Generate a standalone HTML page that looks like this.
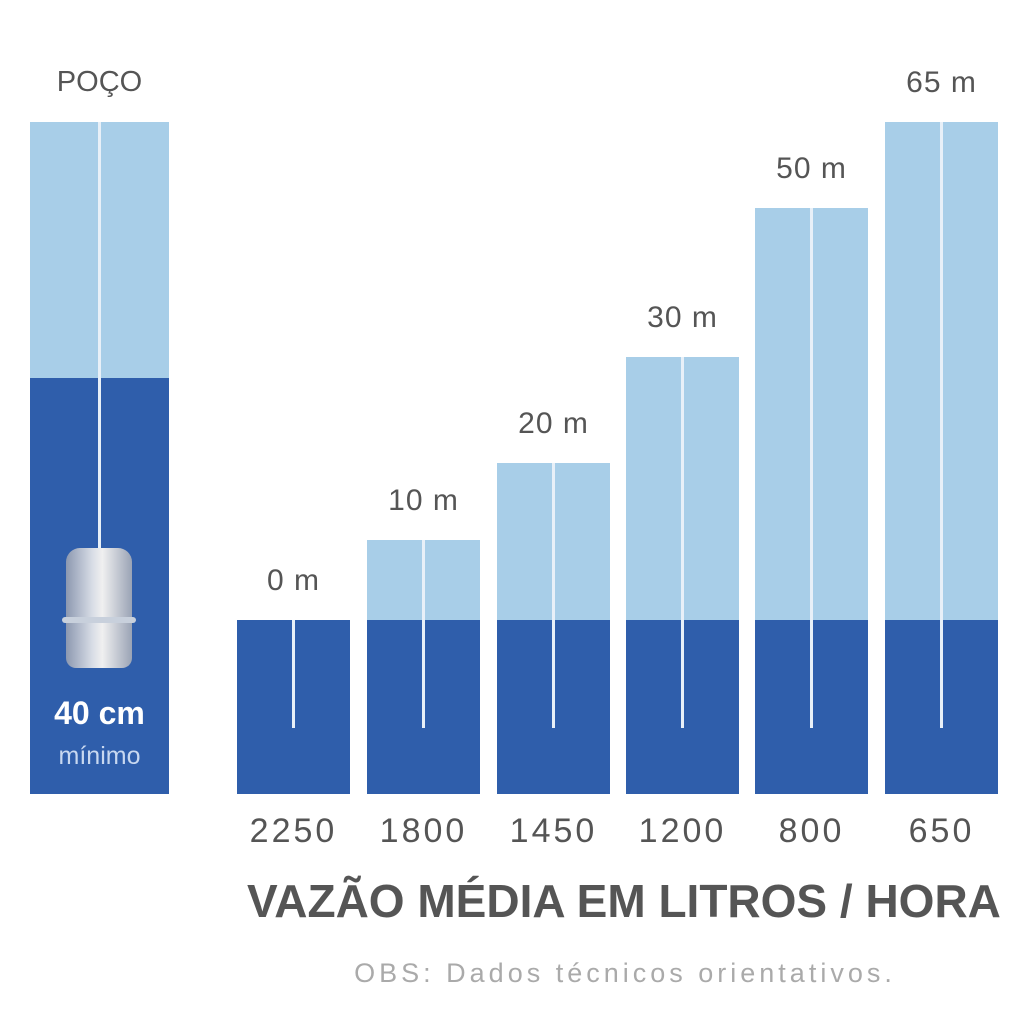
<!DOCTYPE html><html><head><style>
body{margin:0;width:1024px;height:1024px;background:#fff;position:relative;overflow:hidden;font-family:"Liberation Sans",sans-serif}
.a{position:absolute}
.l{background:#a8cee8}.d{background:#2f5eab}
.t{position:absolute;color:#555;font-size:30px;text-align:center;white-space:nowrap}
.w{position:absolute;background:#e8f0f8;width:3px}
</style></head><body>
<div class="t" style="left:30px;width:139px;top:66px;font-size:29px">POÇO</div>
<div class="a l" style="left:30px;top:122px;width:139px;height:256px"></div>
<div class="a d" style="left:30px;top:378px;width:139px;height:416px"></div>
<div class="w" style="left:98px;top:122px;height:430px"></div>
<div class="a" style="left:66px;top:548px;width:66px;height:120px;background:linear-gradient(90deg,#8c98b0,#d8dde6 40%,#f0f0f0 55%,#9aa3b5);border-radius:14px 14px 10px 10px"></div>
<div class="a" style="left:62px;top:617px;width:74px;height:6px;background:#c8d0dc;border-radius:3px"></div>
<div class="t" style="left:30px;width:139px;top:695px;color:#fff;font-weight:bold;font-size:32px">40 cm</div>
<div class="t" style="left:30px;width:139px;top:742px;color:#c8d8f0;font-size:25px">mínimo</div>
<div id="bars"></div>
<script>
var b=[[237,620,"0 m","2250"],[367,540,"10 m","1800"],[497,463,"20 m","1450"],[626,357,"30 m","1200"],[755,208,"50 m","800"],[885,122,"65 m","650"]];
var h="";b.forEach(function(x){var L=x[0],T=x[1];
h+='<div class="a l" style="left:'+L+'px;top:'+T+'px;width:113px;height:'+(620-T)+'px"></div>';
h+='<div class="a d" style="left:'+L+'px;top:620px;width:113px;height:174px"></div>';
h+='<div class="w" style="left:'+(L+55)+'px;top:'+T+'px;height:'+(728-T)+'px"></div>';
h+='<div class="t" style="left:'+(L-20)+'px;width:153px;top:'+(T-56)+'px;letter-spacing:1px">'+x[2]+'</div>';
h+='<div class="t" style="left:'+(L-20)+'px;width:153px;top:812px;font-size:34px;letter-spacing:3px">'+x[3]+'</div>';});
document.getElementById("bars").innerHTML=h;
</script>
<div class="t" style="left:247px;top:874px;font-size:46px;font-weight:bold;color:#555;text-align:left">VAZÃO MÉDIA EM LITROS / HORA</div>
<div class="t" style="left:300px;width:650px;top:958px;font-size:27px;color:#aaa;letter-spacing:4px">OBS: Dados técnicos orientativos.</div>
</body></html>
